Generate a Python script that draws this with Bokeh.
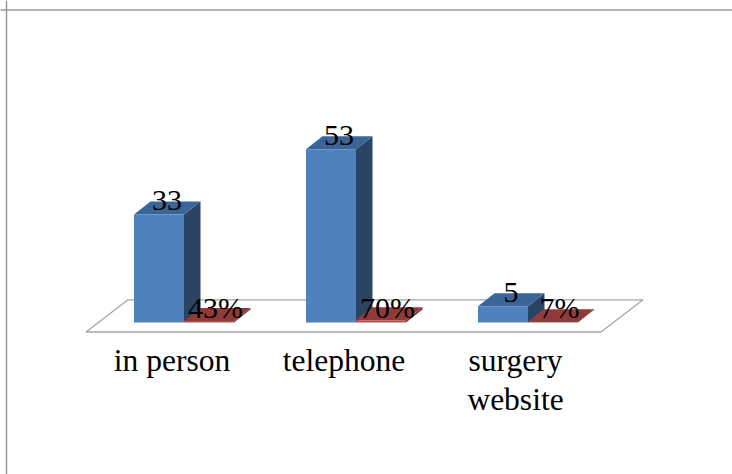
from bokeh.core.properties import value
from bokeh.embed import file_html
from bokeh.models import Span
from bokeh.plotting import figure
from bokeh.resources import INLINE

categories = ["in person", "telephone", "surgery\nwebsite"]
counts = [33, 53, 5]
percents = [43, 70, 7]

W, H = 732, 474
X0, STEP = 183.5, 172.0     # px of category 0's group centre, px per category
Y0, PXU = 322.0, 3.27       # px of value 0, px per unit
BAR = 50.0 / STEP           # bar width in category units
DX, DY = 16.5 / STEP, 13.0 / PXU   # oblique depth
FONT = value("Liberation Serif")

p = figure(width=W, height=H, output_backend="svg", toolbar_location=None,
           x_range=(-X0 / STEP, (W - X0) / STEP),
           y_range=((Y0 - H) / PXU, Y0 / PXU),
           min_border=0, outline_line_color=None, background_fill_color="white")
p.axis.visible = False
p.grid.visible = False

for kw in (dict(location=6, dimension="height"), dict(location=H - 9.5, dimension="width")):
    p.add_layout(Span(location_units="screen", line_color="#9a9a9a", line_width=1.5, **kw))

# floor
fx = [(85.5 - X0) / STEP, (600.5 - X0) / STEP, (642.5 - X0) / STEP, (127.5 - X0) / STEP]
fy = [(Y0 - 331.5) / PXU, (Y0 - 331.5) / PXU, (Y0 - 299.3) / PXU, (Y0 - 299.3) / PXU]
p.patch(fx, fy, fill_color="white", line_color="#a6a6a6", line_width=1.3)


def box(left, h, front, top, side):
    r = left + BAR
    p.patch([r, r + DX, r + DX, r], [0, DY, h + DY, h], fill_color=side, line_color=None)
    p.patch([left, r, r + DX, left + DX], [h, h, h + DY, h + DY], fill_color=top, line_color=None)
    p.patch([left, r, r, left], [0, 0, h, h], fill_color=front, line_color=None)


for i, (c, q) in enumerate(zip(counts, percents)):
    box(i - BAR, c, "#4f81bd", "#3b6596", "#2a4464")
    box(i, q / 100, "#b8504e", "#8e3c3a", "#7a3230")

xs = list(range(len(counts)))
p.text([i - BAR / 2 for i in xs], counts, text=[str(c) for c in counts],
       text_font=FONT, text_font_size="30px", text_color="black",
       text_align="center", text_baseline="alphabetic", x_offset=8, y_offset=-14)
p.text([i + BAR / 2 for i in xs], [0] * 3, text=[f"{q}%" for q in percents],
       text_font=FONT, text_font_size="30px", text_color="black",
       text_align="center", text_baseline="alphabetic", x_offset=6.5, y_offset=-15)

for i, cat in enumerate(categories):
    for j, line in enumerate(cat.split("\n")):
        p.text([i], [0], text=[line], text_font=FONT, text_font_size="31.5px",
               text_color="black", text_align="center", text_baseline="alphabetic",
               x_offset=-12 if i < 2 else -12.5, y_offset=37.5 + 39.5 * j)

open("out.html", "w").write(file_html(p, INLINE))
